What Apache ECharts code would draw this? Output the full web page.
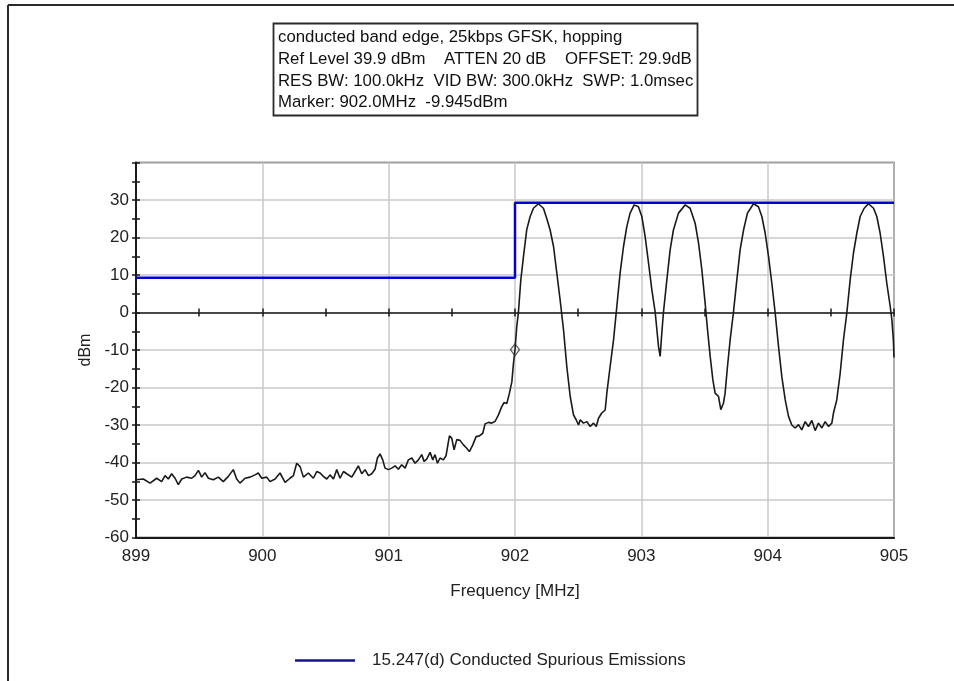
<!DOCTYPE html>
<html>
<head>
<meta charset="utf-8">
<script src="https://cdn.jsdelivr.net/npm/echarts@6/dist/echarts.min.js"></script>
<style>
  html, body { margin: 0; padding: 0; background: #fff; }
  #chart { width: 954px; height: 681px; }
</style>
</head>
<body>
<div id="chart"></div>
<script>
// Spectrum analyser trace: frequency (MHz) and level (dBm)
const traceFreq = [
  899.000, 899.058, 899.111, 899.164, 899.203, 899.230, 899.256, 899.282, 899.309, 899.335,
  899.362, 899.401, 899.441, 899.467, 899.494, 899.520, 899.546, 899.573, 899.612, 899.652,
  899.691, 899.731, 899.770, 899.797, 899.823, 899.863, 899.903, 899.942, 899.968, 899.995,
  900.035, 900.061, 900.101, 900.140, 900.180, 900.219, 900.246, 900.272, 900.299, 900.325,
  900.364, 900.404, 900.431, 900.457, 900.483, 900.510, 900.536, 900.563, 900.589, 900.615,
  900.642, 900.668, 900.708, 900.734, 900.760, 900.787, 900.813, 900.840, 900.866, 900.892,
  900.911, 900.932, 900.953, 900.971, 900.998, 901.024, 901.051, 901.077, 901.103, 901.130,
  901.156, 901.183, 901.209, 901.235, 901.262, 901.280, 901.301, 901.328, 901.349, 901.367,
  901.386, 901.407, 901.433, 901.454, 901.481, 901.499, 901.518, 901.539, 901.565, 901.592,
  901.618, 901.639, 901.666, 901.692, 901.718, 901.745, 901.763, 901.790, 901.816, 901.843,
  901.869, 901.895, 901.914, 901.935, 901.956, 901.975, 901.988, 902.000, 902.014, 902.027,
  902.046, 902.067, 902.093, 902.120, 902.146, 902.185, 902.225, 902.252, 902.278, 902.305,
  902.331, 902.357, 902.384, 902.410, 902.437, 902.463, 902.484, 902.503, 902.516, 902.542,
  902.569, 902.595, 902.622, 902.643, 902.661, 902.687, 902.714, 902.727, 902.753, 902.780,
  902.806, 902.832, 902.859, 902.885, 902.911, 902.943, 902.977, 903.004, 903.030, 903.057,
  903.083, 903.110, 903.123, 903.136, 903.149, 903.162, 903.175, 903.202, 903.228, 903.254,
  903.294, 903.347, 903.386, 903.426, 903.453, 903.479, 903.505, 903.524, 903.545, 903.566,
  903.584, 903.611, 903.629, 903.650, 903.663, 903.682, 903.703, 903.729, 903.756, 903.782,
  903.809, 903.840, 903.888, 903.927, 903.954, 903.980, 904.007, 904.033, 904.059, 904.086,
  904.112, 904.139, 904.165, 904.191, 904.218, 904.244, 904.270, 904.297, 904.323, 904.350,
  904.376, 904.402, 904.429, 904.455, 904.482, 904.508, 904.521, 904.547, 904.574, 904.600,
  904.627, 904.653, 904.679, 904.706, 904.732, 904.764, 904.798, 904.838, 904.864, 904.890,
  904.917, 904.943, 904.970, 904.983, 904.995, 905.000
];
const traceLevel = [
  -44.6, -44.4, -45.5, -44.2, -45.1, -43.5, -44.4, -43.0, -44.2, -45.9,
  -44.4, -43.9, -44.2, -43.5, -42.1, -43.9, -42.7, -44.2, -44.6, -43.9,
  -45.1, -43.7, -41.9, -44.4, -45.5, -44.2, -43.9, -43.3, -42.8, -44.2,
  -43.9, -45.1, -44.4, -42.8, -45.3, -44.2, -43.5, -40.2, -41.1, -43.9,
  -42.8, -44.2, -42.4, -42.8, -43.7, -44.4, -43.3, -44.4, -41.9, -44.2,
  -42.4, -43.0, -43.9, -42.4, -40.9, -43.0, -41.9, -43.5, -43.0, -41.8,
  -38.8, -37.7, -39.3, -41.5, -41.9, -41.5, -40.9, -41.8, -40.6, -41.5,
  -39.3, -38.8, -40.2, -39.3, -37.9, -39.7, -39.1, -37.3, -39.3, -37.9,
  -40.2, -38.8, -39.3, -38.2, -32.9, -33.5, -36.6, -33.9, -34.1, -35.3,
  -36.2, -37.1, -35.3, -33.1, -32.9, -32.2, -29.7, -29.3, -29.5, -29.0,
  -27.3, -25.1, -24.0, -24.3, -21.5, -18.5, -13.5, -9.9, -3.7, 0.0,
  8.7, 14.9, 22.1, 25.6, 27.8, 29.0, 27.8, 25.0, 22.0, 17.6,
  10.5, 3.4, -4.6, -14.4, -22.4, -27.3, -28.6, -30.0, -28.6, -29.5,
  -29.1, -30.4, -29.5, -30.4, -28.2, -26.8, -26.0, -21.5, -14.4, -7.3,
  1.6, 10.5, 17.6, 22.9, 26.5, 28.7, 28.2, 25.6, 20.3, 13.2,
  6.1, 0.0, -4.6, -9.1, -11.7, -5.5, 0.0, 8.7, 16.7, 22.0,
  26.5, 28.7, 27.8, 23.8, 18.5, 11.4, 2.5, -4.6, -11.7, -17.9,
  -21.5, -22.4, -25.9, -24.2, -21.5, -14.4, -7.3, 0.0, 8.7, 16.7,
  22.0, 26.5, 29.0, 28.2, 25.6, 21.2, 14.9, 7.8, 0.0, -9.1,
  -17.1, -23.3, -27.7, -30.0, -30.8, -29.9, -31.3, -29.1, -30.4, -28.8,
  -31.5, -29.5, -30.8, -29.1, -30.4, -29.5, -26.8, -23.3, -16.2, -7.3,
  0.0, 8.7, 15.8, 21.2, 25.6, 27.8, 29.0, 27.8, 25.6, 21.2,
  14.9, 7.8, 1.6, -1.9, -7.3, -12.0
];

// 15.247(d) limit line (step at the band edge)
const limitFreq = [899, 902, 902, 905];
const limitLevel = [9.3, 9.3, 29.3, 29.3];

// Marker reading
const markerFreq = 902.0;
const markerLevel = -9.945;

const xTicks = [899, 900, 901, 902, 903, 904, 905];
const yTicks = [-60, -50, -40, -30, -20, -10, 0, 10, 20, 30];

const headerLines = [
  'conducted band edge, 25kbps GFSK, hopping',
  'Ref Level 39.9 dBm    ATTEN 20 dB    OFFSET: 29.9dB',
  'RES BW: 100.0kHz  VID BW: 300.0kHz  SWP: 1.0msec',
  'Marker: 902.0MHz  -9.945dBm'
];
const limitName = '15.247(d) Conducted Spurious Emissions';
const xName = 'Frequency [MHz]';
const yName = 'dBm';

const FONT = '"Liberation Sans", Arial, sans-serif';

const chart = echarts.init(document.getElementById('chart'), null, { renderer: 'canvas' });

const traceData = traceFreq.map((f, i) => [f, traceLevel[i]]);
const limitData = limitFreq.map((f, i) => [f, limitLevel[i]]);

const xMin = xTicks[0], xMax = xTicks[xTicks.length - 1];
const yMin = yTicks[0], yMax = 40;

const baseX = {
  type: 'value', min: xMin, max: xMax, gridIndex: 0
};
const baseY = {
  type: 'value', min: yMin, max: yMax, interval: 10, gridIndex: 0
};

const header = headerLines.map((t, i) => ({
  type: 'text',
  left: 278,
  top: 29 + i * 21.7,
  style: { text: t, font: '16.8px ' + FONT, fill: '#111' }
}));

chart.setOption({
  animation: false,
  backgroundColor: '#fff',
  grid: {
    left: 136, right: 60, top: 162.5, bottom: 143.5,
    show: true, borderColor: '#3a3a3a', borderWidth: 1.5, backgroundColor: 'transparent'
  },
  xAxis: [
    Object.assign({}, baseX, {
      position: 'bottom', interval: 1,
      axisLine: { show: true, onZero: false, lineStyle: { color: '#1a1a1a', width: 2 } },
      axisTick: { show: false },
      axisLabel: { margin: 10, fontSize: 17, color: '#222', fontFamily: FONT },
      splitLine: { show: true, lineStyle: { color: '#c8c8c8', width: 1.5 } },
      name: xName, nameLocation: 'middle', nameGap: 45,
      nameTextStyle: { fontSize: 17, color: '#222', fontFamily: FONT }
    }),
    Object.assign({}, baseX, {
      position: 'bottom', interval: 0.5,
      axisLine: { show: true, onZero: true, onZeroAxisIndex: 0, lineStyle: { color: '#1a1a1a', width: 1.5 } },
      axisTick: { show: true, inside: true, length: 4, lineStyle: { color: '#1a1a1a', width: 1.5 } },
      axisLabel: { show: false }, splitLine: { show: false }
    }),
    Object.assign({}, baseX, {
      position: 'bottom', interval: 0.5,
      axisLine: { show: false, onZero: true, onZeroAxisIndex: 0 },
      axisTick: { show: true, inside: false, length: 4, lineStyle: { color: '#1a1a1a', width: 1.5 } },
      axisLabel: { show: false }, splitLine: { show: false }
    })
  ],
  yAxis: [
    Object.assign({}, baseY, {
      position: 'left',
      axisLine: { show: true, onZero: false, lineStyle: { color: '#1a1a1a', width: 2 } },
      axisTick: { show: true, length: 4, lineStyle: { color: '#1a1a1a', width: 1.5 } },
      minorTick: { show: true, splitNumber: 2, length: 4, lineStyle: { color: '#1a1a1a', width: 1.5 } },
      axisLabel: { margin: 7, fontSize: 17, color: '#222', fontFamily: FONT, showMaxLabel: false },
      splitLine: { show: true, lineStyle: { color: '#c8c8c8', width: 1.5 } },
      name: yName, nameLocation: 'middle', nameGap: 38, nameRotate: 90,
      nameTextStyle: { fontSize: 16, color: '#222', fontFamily: FONT }
    }),
    Object.assign({}, baseY, {
      position: 'left',
      axisLine: { show: false, onZero: false },
      axisTick: { show: true, inside: true, length: 4, lineStyle: { color: '#1a1a1a', width: 1.5 } },
      minorTick: { show: true, splitNumber: 2, length: 4, lineStyle: { color: '#1a1a1a', width: 1.5 } },
      axisLabel: { show: false }, splitLine: { show: false }
    })
  ],
  legend: {
    left: 290, top: 647,
    icon: 'rect', itemWidth: 60, itemHeight: 2.5,
    textStyle: { fontSize: 17, color: '#222', fontFamily: FONT, padding: [0, 0, 0, 12] },
    data: [{ name: limitName, itemStyle: { color: '#14148c' } }]
  },
  series: [
    {
      name: 'trace', type: 'line', data: traceData,
      showSymbol: false, symbol: 'none',
      lineStyle: { color: '#1a1a1a', width: 1.6 },
      z: 3, silent: true
    },
    {
      name: limitName, type: 'line', data: limitData,
      showSymbol: false, symbol: 'none',
      lineStyle: { color: '#0000d2', width: 2.5 },
      itemStyle: { color: '#0000d2' },
      z: 4, silent: true
    },
    {
      name: 'marker', type: 'scatter', data: [[markerFreq, markerLevel]],
      symbol: 'diamond', symbolSize: [9, 12],
      itemStyle: { color: 'rgba(255,255,255,0)', borderColor: '#333', borderWidth: 1.3 },
      z: 5, silent: true
    }
  ],
  graphic: [
    { type: 'line', shape: { x1: 8, y1: 5, x2: 954, y2: 5 }, style: { stroke: '#2a2a2a', lineWidth: 2 } },
    { type: 'line', shape: { x1: 8, y1: 5, x2: 8, y2: 681 }, style: { stroke: '#2a2a2a', lineWidth: 2 } },
    { type: 'rect', shape: { x: 273.5, y: 23.5, width: 424, height: 92 }, style: { fill: '#fff', stroke: '#2a2a2a', lineWidth: 1.8 } }
  ].concat(header)
});
</script>
</body>
</html>
